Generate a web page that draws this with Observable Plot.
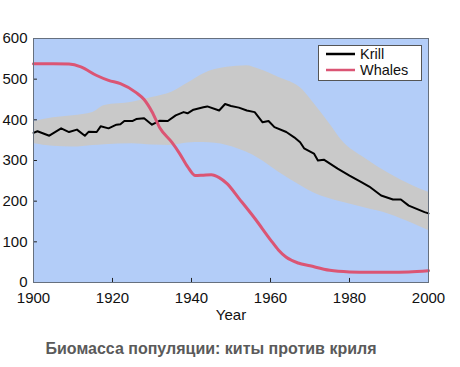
<!DOCTYPE html>
<html><head><meta charset="utf-8">
<script src="https://cdn.jsdelivr.net/npm/d3@7"></script>
<script src="https://cdn.jsdelivr.net/npm/@observablehq/plot@0.6"></script>
<style>
body{margin:0;background:#fff;}
#wrap{position:relative;width:460px;height:367px;}
#legend{position:absolute;left:0;top:0;}
</style>
</head><body>
<div id="wrap"></div>
<script>
// ---- data ----
const krillYears = [1900,1901,1904,1907,1909,1911,1913,1914,1916,1917,1919,1921,1922,1923,1925,1926,1928,1930,1932,1934,1936,1938,1939,1940.5,1943,1944,1947,1948.5,1950,1952,1954,1956,1958,1959.5,1961,1964,1966,1967.5,1968.5,1971,1972,1973.5,1977,1980,1983,1985,1988,1991,1993,1995,1999,2000];
const krillValues = [368,372,361,379,370,376,361,371,370,384,379,388,389,397,397,402,404,388,398,397,411,419,416,425,431,433,423,439,434,430,423,419,394,397,382,370,357,345,330,317,300,302,280,263,247,236,214,204,204,189,173,170];

const bandYears = [1900,1905,1910,1915,1918,1925,1930,1935,1939,1943,1949,1954,1957,1962,1968,1971,1975,1978,1984,1990,1996,2000];
const bandUpper = [395,405,410,418,435,443,455,468,490,513,529,533,525,505,475,440,390,350,305,268,238,222];
const bandLower = [342,335,333,337,339,341,338,337,343,344,337,320,305,272,236,220,206,198,183,168,145,128];

const whaleYears = [1900,1905,1909,1912,1916,1919,1922,1926,1928,1930,1932,1935,1937,1939,1941,1943,1945,1947,1949,1952,1956,1960,1962,1964,1967,1970,1975,1980,1985,1990,1995,2000];
const whaleValues = [538,538,537,530,509,497,489,467,450,420,380,345,317,285,263,264,265,258,243,207,158,105,80,62,48,41,30,26,25,25,26,29];

const seriesNames = ["Krill","Whales"];
const seriesColors = ["#000000","#db5574"];
const xTicks = [1900,1920,1940,1960,1980,2000];
const yTicks = [0,100,200,300,400,500,600];
const xLabel = "Year";
const caption = "Биомасса популяции: киты против криля";

// ---- tables ----
const krill = krillYears.map((y,i)=>({year:y, v:krillValues[i]}));
const band = bandYears.map((y,i)=>({year:y, lo:bandLower[i], hi:bandUpper[i]}));
const whales = whaleYears.map((y,i)=>({year:y, v:whaleValues[i]}));

const font = "Liberation Sans, Arial, sans-serif";
const plot = Plot.plot({
  width: 460, height: 367,
  marginLeft: 33, marginRight: 32, marginTop: 38, marginBottom: 85,
  x: {domain: [1900, 2000]},
  y: {domain: [0, 600]},
  style: {fontFamily: font, fontSize: "15px", color: "#111", background: "white", overflow: "visible"},
  marks: [
    Plot.frame({fill: "#b3cdf8", stroke: null}),
    Plot.areaY(band, {x: "year", y1: "lo", y2: "hi", fill: "#c9c9c9", curve: "monotone-x"}),
    Plot.line(krill, {x: "year", y: "v", stroke: seriesColors[0], strokeWidth: 2}),
    Plot.line(whales, {x: "year", y: "v", stroke: seriesColors[1], strokeWidth: 3, curve: "monotone-x"}),
    Plot.ruleX(xTicks.slice(1, -1), {y1: 0, y2: 10, stroke: "#222"}),
    Plot.ruleY(yTicks.slice(1, -1), {x1: 1900, x2: 1901, stroke: "#222"}),
    Plot.frame({stroke: "#66707e"}),
    Plot.axisX({ticks: xTicks, tickSize: 0, tickPadding: 10, tickFormat: "d", label: null}),
    Plot.axisY({ticks: yTicks, tickSize: 0, tickPadding: 6, label: null}),
    Plot.text([xLabel], {text: d => d, frameAnchor: "bottom", dy: 27, lineAnchor: "top", fontSize: 15, fill: "#111"}),
    Plot.text([caption], {text: d => d, frameAnchor: "bottom", dx: -20, dy: 60, lineAnchor: "top", fontSize: 16, fontWeight: "bold", fill: "#5a5a5a"})
  ]
});
document.getElementById("wrap").appendChild(plot);

// ---- legend overlay ----
const lg = d3.select("#wrap").append("svg").attr("id","legend")
  .attr("width", 460).attr("height", 367)
  .style("font-family", font).style("font-size", "14.5px");
lg.append("rect").attr("x", 318.5).attr("y", 45.5).attr("width", 103).attr("height", 35)
  .attr("fill", "white").attr("stroke", "#555");
seriesNames.forEach((name, i) => {
  const cy = 54 + i * 16;
  lg.append("line").attr("x1", 326).attr("x2", 355).attr("y1", cy).attr("y2", cy)
    .attr("stroke", seriesColors[i]).attr("stroke-width", 2.5);
  lg.append("text").attr("x", 360).attr("y", cy + 5).attr("fill", "#111").text(name);
});
</script>
</body></html>
